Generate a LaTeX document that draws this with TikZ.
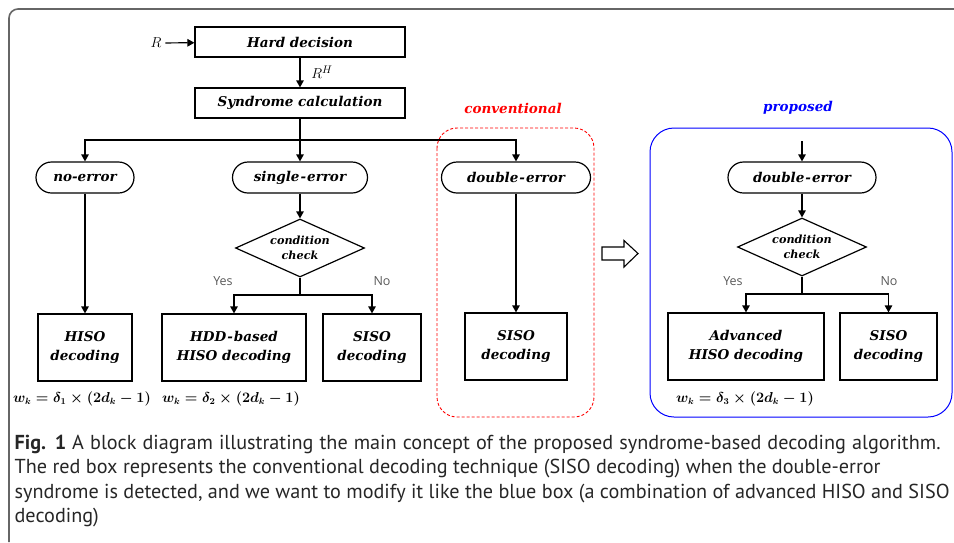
\documentclass[tikz,border=0pt]{standalone}
\usepackage{fontspec}
\usetikzlibrary{arrows.meta,shapes.geometric}
\newfontfamily\boxfont{DejaVu Serif}
\newfontfamily\capfont{PT Sans}
\newfontfamily\ynfont{Open Sans}
\begin{document}
\begin{tikzpicture}[x=1pt, y=-1pt, line width=1.2pt,
    >={Triangle[length=7pt,width=7.5pt]},
    every node/.style={font=\boxfont\bfseries\itshape\fontsize{13.5}{19}\selectfont},
    procbox/.style={draw, rectangle, minimum width=210pt, minimum height=30pt},
    termbox/.style={draw, rectangle, rounded corners=15.5pt, minimum height=31pt},
    condbox/.style={draw, diamond, aspect=2.2, minimum width=129pt, minimum height=58pt, inner sep=0pt,
      align=center, font=\boxfont\bfseries\itshape\fontsize{11.2}{15}\selectfont},
    decbox/.style={draw, rectangle, minimum height=67pt, align=center},
    wlabel/.style={font=\boldmath\fontsize{13.3}{15}\selectfont},
    ynlabel/.style={font=\ynfont\fontsize{12.5}{15}\selectfont, text=black!65},
    caplabel/.style={anchor=base west, inner sep=0pt, text=black!85, font=\capfont\fontsize{20.2}{24}\selectfont}]
  \useasboundingbox (0,0) rectangle (954,542);
  \draw[black!60, line width=1.6pt, rounded corners=9pt] (954,9) -- (9,9) -- (9,542);

  \node[procbox] (hard) at (300,42) {Hard decision};
  \node[procbox] (synd) at (300,103) {Syndrome calculation};
  \node[font=\fontsize{15}{15}\selectfont] (rin) at (156,43) {$R$};
  \node[font=\fontsize{15}{15}\selectfont] (rh) at (322,72) {$R^H$};
  \draw[->] (rin) -- (hard);
  \draw[->] (hard) -- (synd);

  \node[termbox, minimum width=98pt] (noerr) at (85,177.5) {no-error};
  \node[termbox, minimum width=135pt] (single) at (300,177.5) {single\kern1pt-\kern1pt error};
  \node[termbox, minimum width=149pt] (dbl1) at (516,177.5) {double\kern1pt-\kern1pt error};
  \node[condbox] (cond1) at (300,248) {condition\\check};
  \node[decbox, minimum width=94pt] (hiso) at (85,347.5) {HISO\\decoding};
  \node[decbox, minimum width=144pt] (hdd) at (234,347.5) {HDD\kern1pt-\kern1pt based\\HISO decoding};
  \node[decbox, minimum width=98pt] (siso1) at (372,347.5) {SISO\\decoding};
  \node[decbox, minimum width=102pt] (siso0) at (516,346.5) {SISO\\decoding};
  \node[ynlabel] (yes1) at (223,281) {Yes};
  \node[ynlabel] (no1) at (382,281) {No};
  \node[wlabel] (w1) at (82,399) {$w_k=\delta_1\times(2d_k-1)$};
  \node[wlabel] (w2) at (231,399) {$w_k=\delta_2\times(2d_k-1)$};

  \coordinate (split) at (300,140);
  \coordinate (fork1) at (300,295);
  \draw (synd) -- (split);
  \draw[->] (split) -| (noerr);
  \draw[->] (split) -- (single);
  \draw[->] (split) -| (dbl1);
  \draw[->] (noerr) -- (hiso);
  \draw[->] (single) -- (cond1);
  \draw (cond1) -- (fork1);
  \draw[->] (fork1) -| (hdd);
  \draw[->] (fork1) -| (siso1);
  \draw[->] (dbl1) -- (siso0);

  \node[text=red] (conv) at (513,108) {conventional};
  \draw[red, line width=0.9pt, dash pattern=on 3pt off 2pt, rounded corners=20pt] (437,128) rectangle (594,417);

  \draw[line width=1.1pt] (602,247) -- (624,247) -- (624,240.5) -- (638,253.5) -- (624,267) -- (624,260) -- (602,260) -- cycle;

  \node[text=blue] (prop) at (798,108) {proposed};
  \draw[blue, line width=1pt, rounded corners=24pt] (650,128) rectangle (952,417);
  \node[termbox, minimum width=148pt] (dbl2) at (802,177.5) {double\kern1pt-\kern1pt error};
  \node[condbox] (cond2) at (802,247) {condition\\check};
  \node[decbox, minimum width=156pt] (adv) at (746,346.5) {Advanced\\HISO decoding};
  \node[decbox, minimum width=97pt] (siso2) at (888.5,346.5) {SISO\\decoding};
  \node[ynlabel] (yes2) at (733,281) {Yes};
  \node[ynlabel] (no2) at (889,281) {No};
  \node[wlabel] (w3) at (745,399) {$w_k=\delta_3\times(2d_k-1)$};
  \coordinate (pin) at (802,141);
  \coordinate (fork2) at (802,294);
  \draw[->] (pin) -- (dbl2);
  \draw[->] (dbl2) -- (cond2);
  \draw (cond2) -- (fork2);
  \draw[->] (fork2) -| (adv);
  \draw[->] (fork2) -| (siso2);

  \node[caplabel] (cap1) at (14,449) {\makebox[926pt][s]{\textbf{Fig. 1}\hspace{6pt}A block diagram illustrating the main concept of the proposed syndrome-based decoding algorithm.}};
  \node[caplabel] (cap2) at (14,473.5) {\makebox[866pt][s]{The red box represents the conventional decoding technique (SISO decoding) when the double-error}};
  \node[caplabel] (cap3) at (14,498) {\makebox[935pt][s]{syndrome is detected, and we want to modify it like the blue box (a combination of advanced HISO and SISO}};
  \node[caplabel] (cap4) at (14,522.5) {decoding)};
\end{tikzpicture}
\end{document}
